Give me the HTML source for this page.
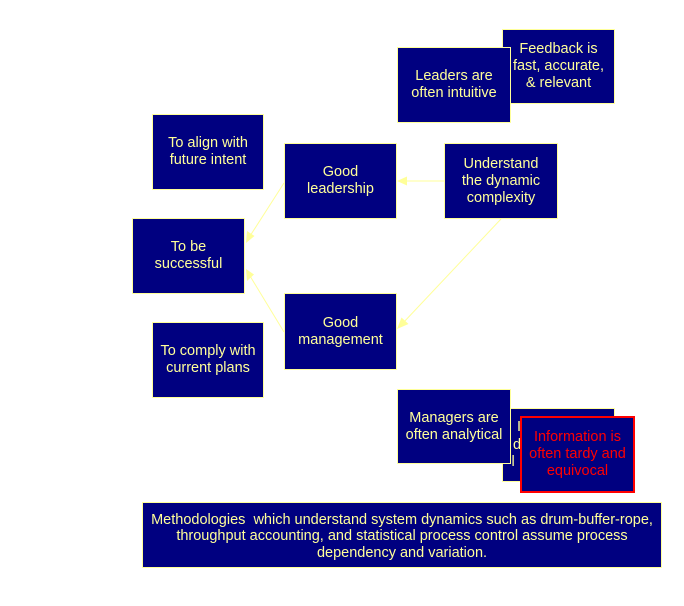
<!DOCTYPE html>
<html>
<head>
<meta charset="utf-8">
<style>
  html, body { margin:0; padding:0; background:#ffffff; }
  body { width:684px; height:606px; position:relative; overflow:hidden;
         font-family:"Liberation Sans", Arial, sans-serif; }
  .b { position:absolute; box-sizing:border-box; background:#000080;
       border:1px solid #FFFF99; color:#FFFF99; font-size:14.5px; line-height:17px;
       display:flex; align-items:center; justify-content:center; text-align:center;
       white-space:nowrap; }
  .red { border:2px solid #FF0000; color:#FF0000; }
  .g { position:absolute; color:#FFFF99; font-size:14.5px; line-height:17px; white-space:nowrap; }
  svg { position:absolute; left:0; top:0; }
</style>
</head>
<body>

<svg width="684" height="606" viewBox="0 0 684 606">
  <g stroke="#FFFF99" stroke-width="1" fill="none">
    <line x1="444" y1="181" x2="405" y2="181"/>
    <line x1="501" y1="219" x2="403" y2="323"/>
    <line x1="284" y1="183" x2="250" y2="236"/>
    <line x1="284" y1="332" x2="250" y2="276"/>
  </g>
  <g fill="#FFFF99">
    <polygon points="397,181 407,176.5 407,185.5"/>
    <polygon points="397,329 401.5,317.5 408.5,324"/>
    <polygon points="246,243 247,231 254.5,236"/>
    <polygon points="246,269 254,274.5 247,281"/>
  </g>
</svg>

<div class="b" style="left:502px;top:29px;width:113px;height:75px;">Feedback is<br>fast, accurate,<br>&amp; relevant</div>
<div class="b" style="left:397px;top:47px;width:114px;height:76px;">Leaders are<br>often intuitive</div>

<div class="b" style="left:152px;top:114px;width:112px;height:76px;">To align with<br>future intent</div>
<div class="b" style="left:284px;top:143px;width:113px;height:76px;">Good<br>leadership</div>
<div class="b" style="left:444px;top:143px;width:114px;height:76px;">Understand<br>the dynamic<br>complexity</div>
<div class="b" style="left:132px;top:218px;width:113px;height:76px;">To be<br>successful</div>
<div class="b" style="left:284px;top:293px;width:113px;height:77px;">Good<br>management</div>
<div class="b" style="left:152px;top:322px;width:112px;height:76px;">To comply with<br>current plans</div>

<div class="b" style="left:502px;top:408px;width:113px;height:74px;"></div>
<div class="g" style="left:517px;top:419px;">I</div>
<div class="g" style="left:513px;top:436.5px;">d</div>
<div class="g" style="left:511.5px;top:454px;">l</div>

<div class="b" style="left:397px;top:389px;width:114px;height:75px;">Managers are<br>often analytical</div>
<div class="b red" style="left:520px;top:416px;width:115px;height:77px;">Information is<br>often tardy and<br>equivocal</div>

<div class="b" style="left:142px;top:502px;width:520px;height:66px;line-height:16.3px;padding-top:3px;">Methodologies&nbsp; which understand system dynamics such as drum-buffer-rope,<br>throughput accounting, and statistical process control assume process<br>dependency and variation.</div>

</body>
</html>
